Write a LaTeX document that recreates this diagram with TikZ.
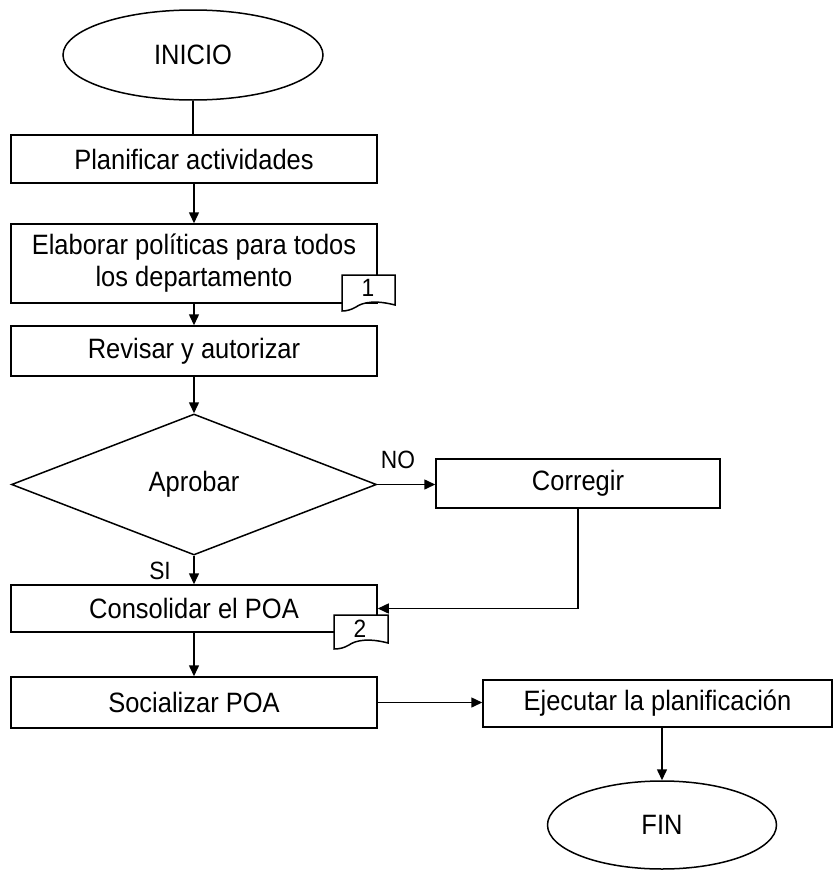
\documentclass[tikz,border=0pt]{standalone}
\usepackage{fontspec}
\setmainfont{Liberation Sans}[FakeStretch=0.91]
\usetikzlibrary{shapes.geometric,arrows.meta}
\begin{document}
\begin{tikzpicture}[x=1pt,y=-1pt,
  every node/.style={font=\fontsize{28}{32}\selectfont},
  proc/.style={draw,line width=1.5pt,minimum width=366pt,inner sep=0pt,align=center},
  term/.style={draw,ellipse,line width=1.5pt,inner sep=0pt},
  conn/.style={line width=1.5pt,-{Triangle[length=11pt,width=10pt]}},
  plain/.style={line width=1.5pt},
  small/.style={font=\fontsize{25}{28}\selectfont,inner sep=0pt}]
\useasboundingbox (0,0) rectangle (834,870);
\node[term,minimum width=260pt,minimum height=90pt] (ini) at (193,55) {INICIO};
\node[proc,minimum height=48pt] (plan) at (194,159) {Planificar actividades};
\node[proc,minimum height=79pt,align=center] (elab) at (194,263.5) {Elaborar políticas para todos\\los departamento};
\node[proc,minimum height=50pt] (rev) at (194,351) {Revisar y autorizar};
\node[draw,diamond,line width=1.5pt,minimum width=365pt,minimum height=141pt,inner sep=0pt] (apr) at (194,484.5) {Aprobar};
\node[proc,minimum width=284pt,minimum height=49pt] (corr) at (578,483.5) {Corregir};
\node[proc,minimum height=47pt] (cons) at (194,608.5) {Consolidar el POA};
\node[proc,minimum height=51pt] (soc) at (194,702.5) {Socializar POA};
\node[proc,minimum width=349pt,minimum height=47pt] (eje) at (657.5,703.5) {Ejecutar la planificación};
\node[term,minimum width=229pt,minimum height=88pt] (fin) at (662,825) {FIN};
% document symbols
\draw[line width=1.5pt,fill=white] (342,275) -- (395,275) -- (395,305) .. controls (376,300) and (363,302) .. (356,307) .. controls (351,310) and (346,311) .. (342,311) -- cycle;
\node[small] (d1) at (368,288) {1};
\draw[line width=1.5pt,fill=white] (334,615) -- (388,615) -- (388,643) .. controls (369,638) and (356,640) .. (349,645) .. controls (344,648) and (339,649) .. (334,649) -- cycle;
\node[small] (d2) at (360,629) {2};
% connectors
\draw[plain] (ini) -- (ini |- plan.north);
\draw[conn] (plan.south) -- (elab.north);
\draw[conn] (elab.south) -- (rev.north);
\draw[conn] (rev.south) -- (apr.north);
\draw[conn] (apr.east) -- (corr.west |- apr.east);
\node[small] (no) at (398,460) {NO};
\draw[conn] (apr.south) -- (cons.north);
\node[small] (si) at (160,571) {SI};
\draw[conn] (corr.south) |- (cons.east);
\draw[conn] (cons.south) -- (soc.north);
\draw[conn] (soc.east) -- (eje.west |- soc.east);
\draw[conn] (eje.south -| fin) -- (fin.north);
\end{tikzpicture}
\end{document}
